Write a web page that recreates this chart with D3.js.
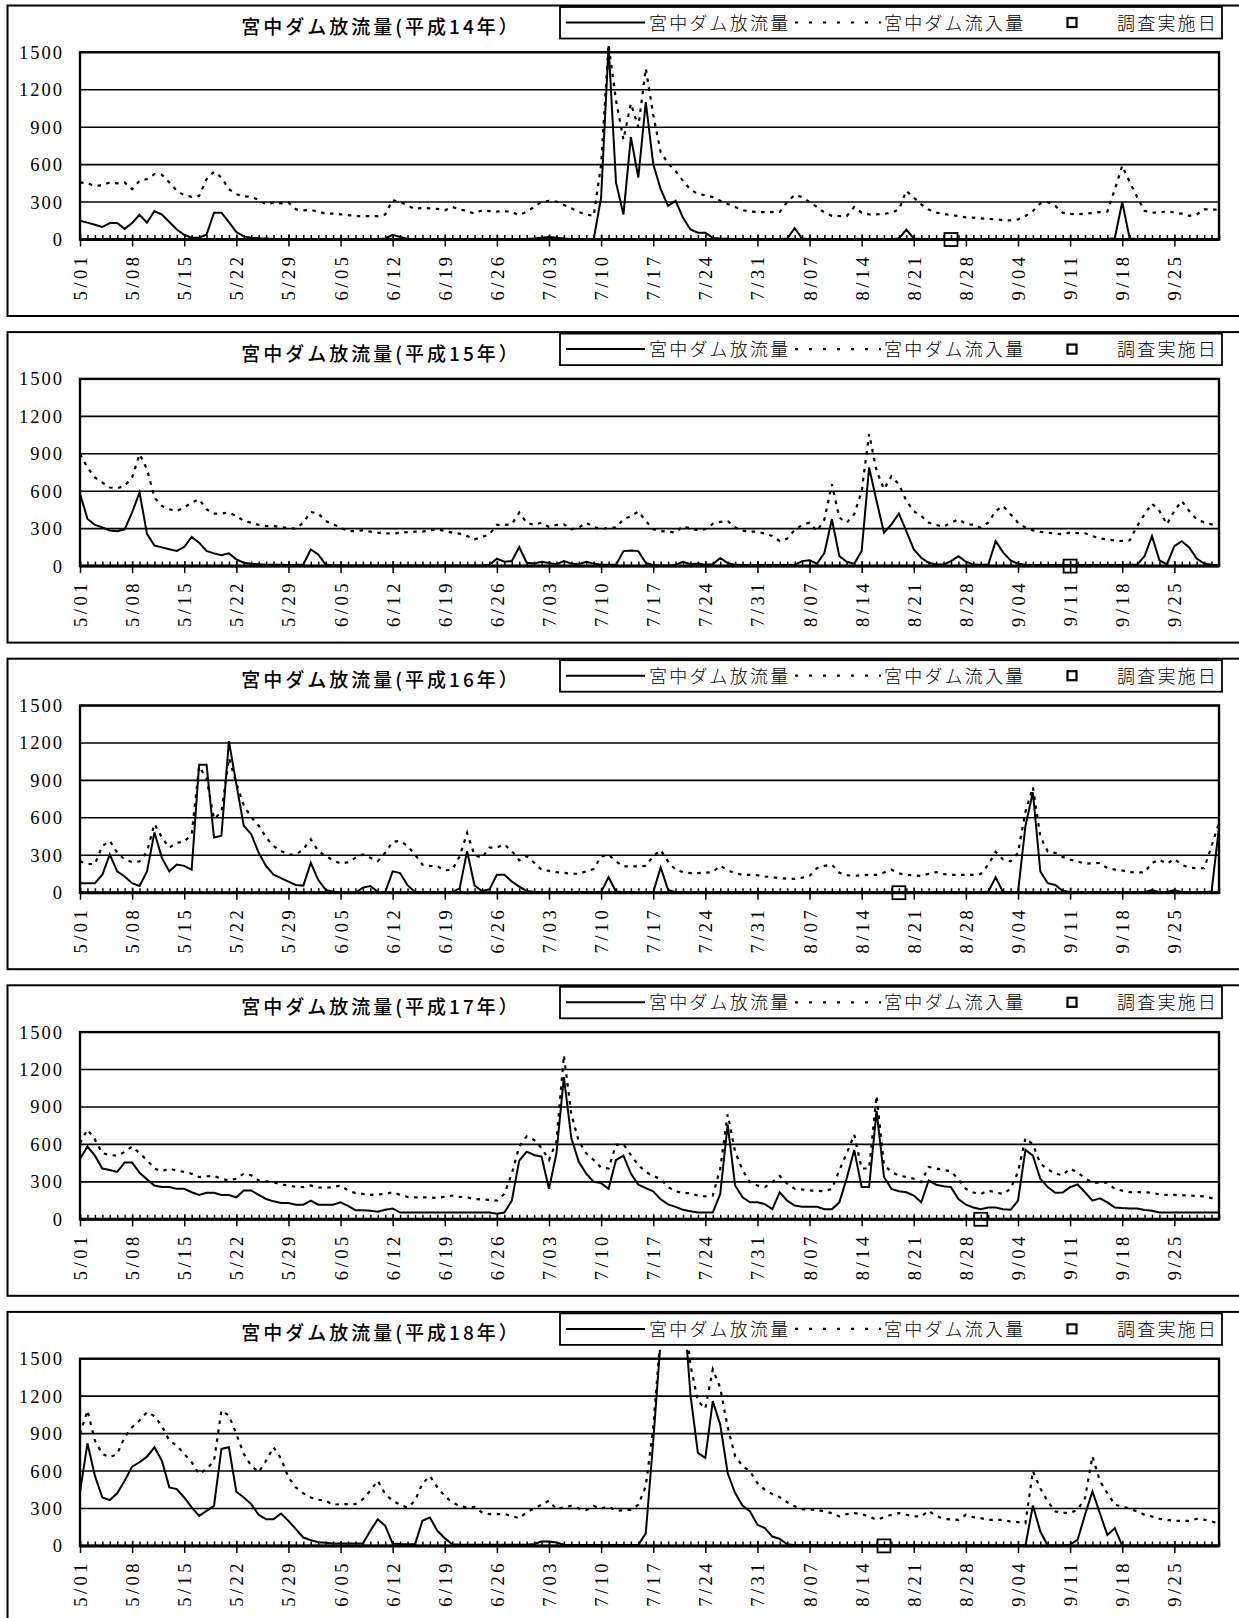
<!DOCTYPE html>
<html>
<head>
<meta charset="utf-8">
<script src="https://cdn.jsdelivr.net/npm/d3@7"></script>
<style>
  body { margin: 0; background: #fff; }
  .title { font-family: "Noto Sans CJK JP", sans-serif; font-size: 19px; font-weight: 500; letter-spacing: 3px; }
  .leg { font-family: "Noto Sans CJK JP", sans-serif; font-size: 18px; font-weight: 300; letter-spacing: 2.2px; }
</style>
</head>
<body>
<div id="chart"></div>
<script>
var svgWidth = 1239;
var svgHeight = 1618;

// x axis: one category per day, 5/01 .. 10/01
var tickLabels = ["5/01","5/08","5/15","5/22","5/29","6/05","6/12","6/19","6/26","7/03","7/10",
  "7/17","7/24","7/31","8/07","8/14","8/21","8/28","9/04","9/11","9/18","9/25"];
var yTicks = [0, 300, 600, 900, 1200, 1500];
var years = ["平成14年", "平成15年", "平成16年", "平成17年", "平成18年"];
// 調査実施日 as day index from 5/01
var surveyDays = [117, 133, 110, 121, 108];

// 宮中ダム放流量 / 宮中ダム流入量, daily values
var outH14 = [150,135,118,100,132,132,85,132,198,135,
  228,200,140,80,38,15,15,40,215,215,
  140,60,25,15,10,8,5,5,5,5,
  5,5,5,5,5,5,5,5,5,5,
  5,8,38,20,6,5,5,5,5,5,
  5,5,5,5,5,5,5,5,5,5,
  5,8,15,20,15,8,5,5,5,0,
  336,1550,457,200,820,497,1100,605,403,270,
  310,175,80,54,54,13,8,6,5,5,
  5,5,5,5,5,8,90,8,5,5,
  5,5,5,5,5,5,5,5,5,5,
  8,80,8,5,5,5,5,5,5,5,
  5,5,5,5,5,5,5,5,5,5,
  5,5,5,5,5,5,5,5,5,10,
  300,8,5,5,5,5,5,5,5,5,
  5,5,5,5];
var inH14 = [457,450,430,435,457,450,457,403,470,484,
  524,519,457,390,355,341,349,484,543,497,
  403,363,347,341,317,282,296,290,296,242,
  234,237,223,207,207,202,196,188,188,188,
  188,200,315,300,274,242,255,250,245,234,
  261,242,228,207,234,228,223,228,220,196,
  223,261,301,309,304,277,250,220,202,188,
  600,1560,1115,800,1090,900,1371,1000,700,610,
  550,470,400,365,355,340,310,285,260,235,
  225,220,220,220,222,300,357,340,300,261,
  215,190,188,188,261,215,202,202,205,215,
  240,390,336,282,240,215,205,195,188,178,
  175,170,165,161,155,153,160,188,228,290,
  300,269,215,205,202,207,212,220,223,400,
  591,460,340,230,215,215,228,215,207,190,
  200,242,240,240];

var outH15 = [580,380,330,310,285,280,295,430,590,258,
  165,150,135,121,153,233,188,121,102,88,
  102,54,27,19,15,10,10,10,8,8,
  13,134,94,13,5,5,5,5,5,5,
  5,5,5,5,5,5,5,5,5,5,
  5,5,5,5,5,10,59,35,40,153,
  27,20,35,25,15,40,20,15,35,20,
  10,10,10,120,125,120,25,8,5,5,
  10,35,15,20,10,15,65,25,10,8,
  8,8,8,8,8,8,10,40,46,19,
  107,375,80,35,19,121,790,522,268,335,
  421,281,134,67,27,13,12,40,80,35,
  12,10,10,200,110,46,19,10,8,8,
  8,8,8,8,8,8,8,8,8,8,
  8,10,12,80,240,46,13,160,200,150,
  60,20,10,5];
var inH15 = [897,790,710,670,630,624,643,710,897,777,
  549,482,455,442,469,509,536,455,421,421,
  429,402,362,348,330,321,321,313,303,300,
  348,434,421,362,335,308,281,281,287,276,
  268,263,260,268,273,276,276,287,295,281,
  268,260,241,214,233,255,330,330,335,429,
  348,330,348,313,330,335,295,308,348,313,
  295,308,308,375,400,437,362,295,280,276,
  268,321,300,287,295,340,355,362,310,285,
  276,276,260,241,200,220,290,330,348,281,
  375,656,388,348,415,600,1058,764,616,720,
  656,522,440,402,348,330,316,348,375,340,
  330,308,348,442,482,415,348,308,287,275,
  268,260,255,268,265,263,240,222,214,205,
  201,206,321,415,501,442,335,442,522,442,
  375,350,335,330];

var outH16 = [76,76,76,144,306,171,130,76,54,171,
  483,279,171,225,215,184,1025,1025,442,456,
  1215,870,537,469,320,212,144,117,89,62,
  57,239,103,22,8,5,0,0,41,54,
  8,5,171,157,60,5,5,5,5,5,
  5,35,333,57,14,27,144,144,90,49,
  14,5,5,5,5,5,5,5,5,5,
  5,124,10,3,3,3,3,3,203,22,
  3,3,3,3,3,3,3,3,3,3,
  3,3,3,3,3,3,3,3,3,3,
  3,3,3,3,3,3,3,3,3,3,
  3,3,3,3,3,3,3,3,3,3,
  3,3,8,124,3,3,3,535,805,170,
  76,62,16,5,3,3,3,3,3,3,
  3,3,3,3,22,3,5,22,3,3,
  3,3,10,522];
var inH16 = [252,230,230,374,415,320,266,245,250,330,
  551,442,361,401,407,469,1012,917,591,645,
  1079,876,700,605,537,442,374,334,306,306,
  347,428,334,293,260,233,244,280,306,280,
  252,320,407,415,374,306,225,215,212,179,
  184,290,480,300,279,361,361,388,334,260,
  293,240,184,175,165,160,152,152,170,190,
  290,305,251,211,211,211,216,292,341,250,
  184,165,157,157,160,165,216,180,157,143,
  143,140,130,125,116,113,111,120,135,197,
  215,224,160,140,135,140,143,143,162,184,
  155,143,138,135,151,165,150,143,143,143,
  143,151,224,327,265,251,319,650,846,450,
  330,319,287,265,251,232,235,238,197,185,
  178,165,163,162,238,265,232,270,224,200,
  197,197,373,560];

var outH17 = [483,583,510,407,395,380,456,456,372,320,
  271,258,258,244,244,217,195,212,212,195,
  195,176,231,231,195,163,144,130,130,117,
  117,149,117,117,117,136,108,73,73,68,
  60,76,87,54,54,54,54,54,54,54,
  54,54,54,54,54,54,45,54,149,470,
  542,515,502,244,529,1139,651,461,366,300,
  290,244,475,510,366,277,250,225,160,120,
  100,76,65,54,54,54,203,759,271,176,
  136,136,122,81,217,149,110,100,100,100,
  81,81,136,330,556,258,258,868,339,244,
  225,217,190,136,312,277,265,258,163,117,
  95,81,95,95,80,76,149,556,510,325,
  258,212,215,258,279,217,149,168,136,95,
  90,87,87,75,68,54,54,54,54,54,
  54,54,54,54];
var inH17 = [610,719,640,530,515,510,540,583,529,475,
  407,385,407,390,380,365,339,345,347,325,
  312,325,366,353,312,305,298,279,271,260,
  258,271,255,252,258,271,231,210,203,195,
  200,203,217,195,180,176,176,175,171,180,
  190,180,176,163,158,155,149,203,366,583,
  664,637,570,475,624,1315,841,624,529,475,
  415,407,597,602,515,434,380,345,325,258,
  225,209,209,190,184,190,407,841,542,393,
  298,271,258,298,347,285,245,239,231,228,
  225,244,393,529,678,407,407,990,434,380,
  350,339,325,298,420,407,395,385,320,244,
  215,203,231,215,203,244,380,650,600,447,
  400,366,353,407,374,330,293,293,293,244,
  230,217,217,217,212,200,195,195,192,190,
  186,184,170,163];

var outH18 = [429,822,563,388,367,421,522,635,670,715,
  790,683,469,455,388,308,241,281,321,777,
  790,434,388,335,249,214,214,260,201,134,
  67,46,30,25,19,19,19,19,19,121,
  214,161,19,15,13,13,201,228,121,62,
  13,10,10,10,10,10,10,10,10,10,
  10,15,35,35,27,10,8,8,8,8,
  8,8,8,8,8,8,102,838,1650,2300,
  2400,2000,1213,745,705,1160,972,584,423,324,
  276,169,142,75,56,13,5,5,5,5,
  5,5,5,5,5,5,5,5,5,5,
  5,5,5,5,5,5,5,5,5,5,
  5,5,5,5,5,5,5,3,324,115,
  3,3,3,10,48,250,437,262,88,142,
  3,3,3,3,3,3,3,3,3,3,
  3,3,3,3];
var inH18 = [897,1085,844,737,710,737,871,951,1005,1072,
  1040,960,844,804,737,670,576,616,680,1085,
  1045,897,737,643,590,683,790,700,549,469,
  421,388,370,362,330,335,335,335,375,442,
  522,415,362,330,308,362,500,560,470,400,
  348,320,308,313,268,255,255,255,240,222,
  268,300,330,362,295,310,321,300,287,321,
  300,315,282,285,290,330,477,946,1700,2400,
  2500,2000,1450,1160,1100,1415,1267,950,720,640,
  597,504,450,415,390,350,317,295,290,290,
  275,263,236,255,263,255,235,209,230,249,
  263,250,236,236,282,240,217,212,209,249,
  230,222,209,209,209,195,190,182,600,460,
  356,276,265,263,290,383,718,520,423,330,
  317,300,276,250,236,217,210,201,201,201,
  217,210,196,180];

var outflow = [outH14, outH15, outH16, outH17, outH18];
var inflow = [inH14, inH15, inH16, inH17, inH18];

var panelStep = 326.6;
var plot = { left: 80, right: 1219, top: 52.3, bottom: 239.5 };
var numFont = '"Liberation Serif", "Times New Roman", serif';

var svg = d3.select("#chart")
  .append("svg")
  .attr("width", svgWidth)
  .attr("height", svgHeight);

var xScale = d3.scaleLinear().domain([0, 153]).range([plot.left, plot.right]);
var yScale = d3.scaleLinear().domain([0, 1500]).range([plot.bottom, plot.top]);

var lineGen = d3.line()
  .x(function(d, i) { return xScale(i); })
  .y(function(d) { return yScale(d); });

years.forEach(function(yr, p) {
  var g = svg.append("g").attr("transform", `translate(0, ${p * panelStep})`);

  // chart frame (right edge runs off the page)
  g.append("rect")
    .attr("x", 7.5).attr("y", 5.5)
    .attr("width", 1245).attr("height", 310.5)
    .attr("fill", "none").attr("stroke", "#000").attr("stroke-width", 2);

  g.append("text")
    .attr("class", "title")
    .attr("x", 381).attr("y", 34)
    .attr("text-anchor", "middle")
    .text("宮中ダム放流量(" + yr + "）");

  // gridlines
  g.selectAll(".grid")
    .data(yTicks.filter(function(v) { return v > 0; }))
    .enter().append("line")
    .attr("x1", plot.left).attr("x2", plot.right)
    .attr("y1", function(v) { return yScale(v); })
    .attr("y2", function(v) { return yScale(v); })
    .attr("stroke", "#000").attr("stroke-width", 1.6);

  // y labels
  g.selectAll(".ylab")
    .data(yTicks)
    .enter().append("text")
    .attr("x", 64).attr("y", function(v) { return yScale(v) + 6.5; })
    .attr("text-anchor", "end")
    .style("font-family", numFont)
    .style("font-size", "18.5px")
    .style("letter-spacing", "2px")
    .text(function(v) { return v; });

  // plot area border
  g.append("rect")
    .attr("x", plot.left).attr("y", plot.top)
    .attr("width", plot.right - plot.left).attr("height", plot.bottom - plot.top)
    .attr("fill", "none").attr("stroke", "#000").attr("stroke-width", 2.4);

  // series, allowed to poke a little above the plot like the original
  var clipId = "clip" + p;
  g.append("clipPath").attr("id", clipId)
    .append("rect")
    .attr("x", plot.left - 2).attr("y", plot.top - 9)
    .attr("width", plot.right - plot.left + 4).attr("height", plot.bottom - plot.top + 12);

  var series = g.append("g").attr("clip-path", `url(#${clipId})`);
  series.append("path")
    .datum(outflow[p])
    .attr("d", lineGen)
    .attr("fill", "none").attr("stroke", "#000").attr("stroke-width", 2);
  series.append("path")
    .datum(inflow[p])
    .attr("d", lineGen)
    .attr("fill", "none").attr("stroke", "#000").attr("stroke-width", 2.2)
    .attr("stroke-dasharray", "3.5,5.5");

  // x axis: daily minor ticks inside, weekly major ticks crossing
  var axisG = g.append("g").attr("transform", `translate(0, ${plot.bottom})`);
  axisG.call(d3.axisBottom(xScale).tickValues(d3.range(0, 154)).tickSize(-4.5).tickSizeOuter(0).tickFormat(""));
  var major = g.append("g").attr("transform", `translate(0, ${plot.bottom})`);
  major.call(d3.axisBottom(xScale).tickValues(d3.range(0, 148, 7)).tickSize(7).tickSizeOuter(0)
    .tickFormat(function(d, i) { return tickLabels[i]; }));
  major.selectAll("line").attr("y1", -5);
  [axisG, major].forEach(function(a) {
    a.select(".domain").remove();
    a.selectAll("line").attr("stroke", "#000").attr("stroke-width", 1.5);
  });
  major.attr("font-family", null).attr("font-size", null);
  major.selectAll("text")
    .attr("transform", "rotate(-90)")
    .attr("text-anchor", "end")
    .attr("x", -14).attr("y", 6.5).attr("dy", null)
    .style("font-family", numFont)
    .style("font-size", "18.5px")
    .style("letter-spacing", "3.5px");
  g.append("line")
    .attr("x1", plot.left).attr("x2", plot.right)
    .attr("y1", plot.bottom).attr("y2", plot.bottom)
    .attr("stroke", "#000").attr("stroke-width", 3);

  // survey day marker
  g.append("rect")
    .attr("x", xScale(surveyDays[p]) - 6.5).attr("y", yScale(0) - 6.5)
    .attr("width", 13).attr("height", 13)
    .attr("fill", "none").attr("stroke", "#000").attr("stroke-width", 1.8);

  // legend
  var leg = g.append("g");
  leg.append("rect")
    .attr("x", 560).attr("y", 7)
    .attr("width", 662).attr("height", 31.5)
    .attr("fill", "#fff").attr("stroke", "#000").attr("stroke-width", 1.8);
  leg.append("line")
    .attr("x1", 566).attr("x2", 645).attr("y1", 22.5).attr("y2", 22.5)
    .attr("stroke", "#000").attr("stroke-width", 2);
  leg.append("text").attr("class", "leg").attr("x", 649).attr("y", 29.5).text("宮中ダム放流量");
  leg.append("line")
    .attr("x1", 795).attr("x2", 881).attr("y1", 22.5).attr("y2", 22.5)
    .attr("stroke", "#000").attr("stroke-width", 2.2)
    .attr("stroke-dasharray", "3,11");
  leg.append("text").attr("class", "leg").attr("x", 884).attr("y", 29.5).text("宮中ダム流入量");
  leg.append("rect")
    .attr("x", 1067.5).attr("y", 18).attr("width", 9).attr("height", 9)
    .attr("fill", "#fff").attr("stroke", "#000").attr("stroke-width", 2.2);
  leg.append("text").attr("class", "leg").attr("x", 1117).attr("y", 29.5).text("調査実施日");
});
</script>
</body>
</html>
